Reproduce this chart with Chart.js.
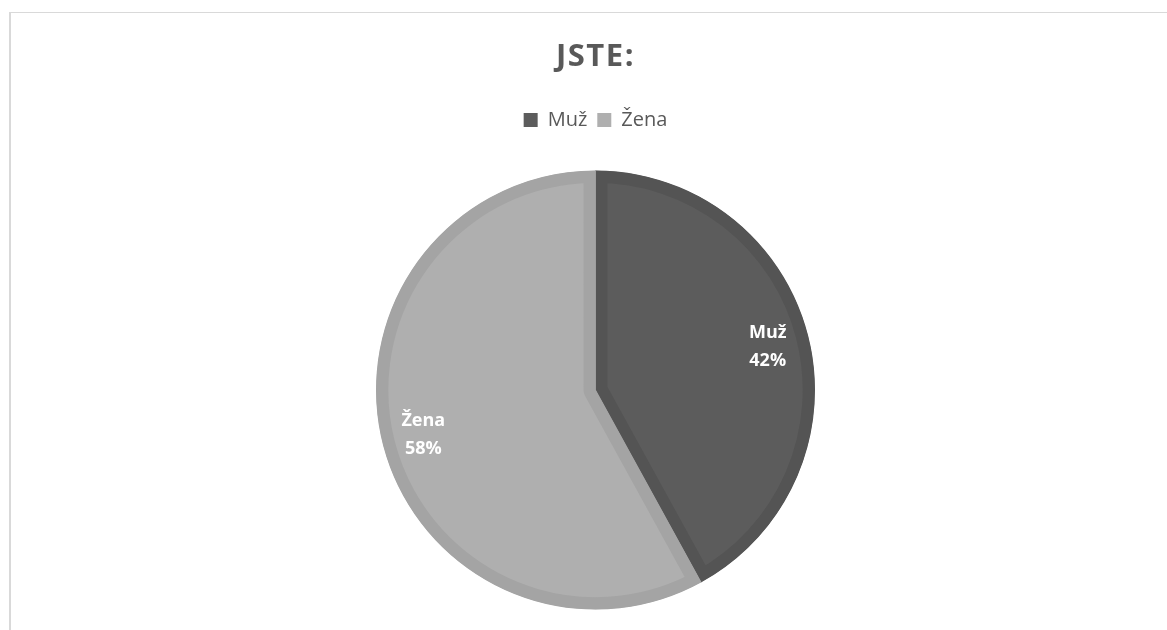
<!DOCTYPE html>
<html>
<head>
<meta charset="utf-8">
<script src="https://cdn.jsdelivr.net/npm/chart.js@4.4.0/dist/chart.umd.min.js"></script>
<style>
  html, body { margin: 0; padding: 0; background: #ffffff; overflow: hidden; width: 1167px; height: 630px; }
  #frame { position: absolute; left: 9px; top: 12px; width: 1300px; height: 700px; border-top: 1px solid #d9d9d9; border-left: 2px solid #d9d9d9; }
  #wrap { position: absolute; left: 0; top: 0; width: 1167px; height: 660px; }
</style>
</head>
<body>
<div id="frame"></div>
<div id="wrap"><canvas id="c" width="1167" height="660"></canvas></div>
<script>
const chartTitle = "JSTE:";
const categories = ["Muž", "Žena"];
const percentValues = [42, 58];
const sliceColors = ["#5c5c5c", "#afafaf"];
const sliceBorderColors = ["#545454", "#a4a4a4"];

const labelPlugin = {
  id: 'sliceLabels',
  afterDatasetsDraw(chart) {
    const ctx = chart.ctx;
    const meta = chart.getDatasetMeta(0);
    ctx.save();
    ctx.fillStyle = '#ffffff';
    ctx.font = 'bold 18px "Open Sans", sans-serif';
    ctx.textAlign = 'center';
    ctx.textBaseline = 'middle';
    meta.data.forEach((arc, i) => {
      const p = arc.getProps(['x', 'y', 'startAngle', 'endAngle', 'outerRadius'], true);
      const mid = (p.startAngle + p.endAngle) / 2;
      const r = p.outerRadius * 0.81;
      const cx = p.x + Math.cos(mid) * r;
      const cy = p.y + Math.sin(mid) * r;
      ctx.fillText(categories[i], cx, cy - 13);
      ctx.fillText(percentValues[i] + '%', cx, cy + 15);
    });
    ctx.restore();
  }
};

const chart = new Chart(document.getElementById('c'), {
  type: 'pie',
  data: {
    labels: categories,
    datasets: [{
      data: percentValues,
      backgroundColor: sliceColors,
      borderColor: sliceBorderColors,
      borderWidth: 12,
      borderAlign: 'inner',
      hoverOffset: 0,
      offset: 0
    }]
  },
  options: {
    responsive: false,
    animation: false,
    radius: 219.5,
    layout: { padding: { left: 24, bottom: 20, top: 0, right: 0 } },
    plugins: {
      tooltip: { enabled: false },
      title: {
        display: true,
        text: chartTitle,
        color: '#595959',
        font: { family: '"Open Sans", sans-serif', size: 31, weight: 'bold' },
        padding: { top: 39, bottom: 23.8 }
      },
      legend: {
        display: true,
        position: 'top',
        labels: {
          color: '#595959',
          font: { family: '"Open Sans", sans-serif', size: 20 },
          boxWidth: 14,
          boxHeight: 14,
          padding: 10,
          generateLabels(chart) {
            return categories.map((c, i) => ({
              text: c,
              fillStyle: sliceColors[i],
              strokeStyle: sliceColors[i],
              lineWidth: 0,
              fontColor: '#595959',
              hidden: false,
              index: i
            }));
          }
        }
      }
    }
  },
  plugins: [labelPlugin]
});

const tb = chart.titleBlock;
if (tb) {
  const origDraw = tb.draw.bind(tb);
  tb.draw = function(area) {
    const ctx = chart.ctx;
    ctx.save();
    ctx.letterSpacing = '1.5px';
    origDraw(area);
    ctx.restore();
  };
  chart.draw();
}
</script>
</body>
</html>
